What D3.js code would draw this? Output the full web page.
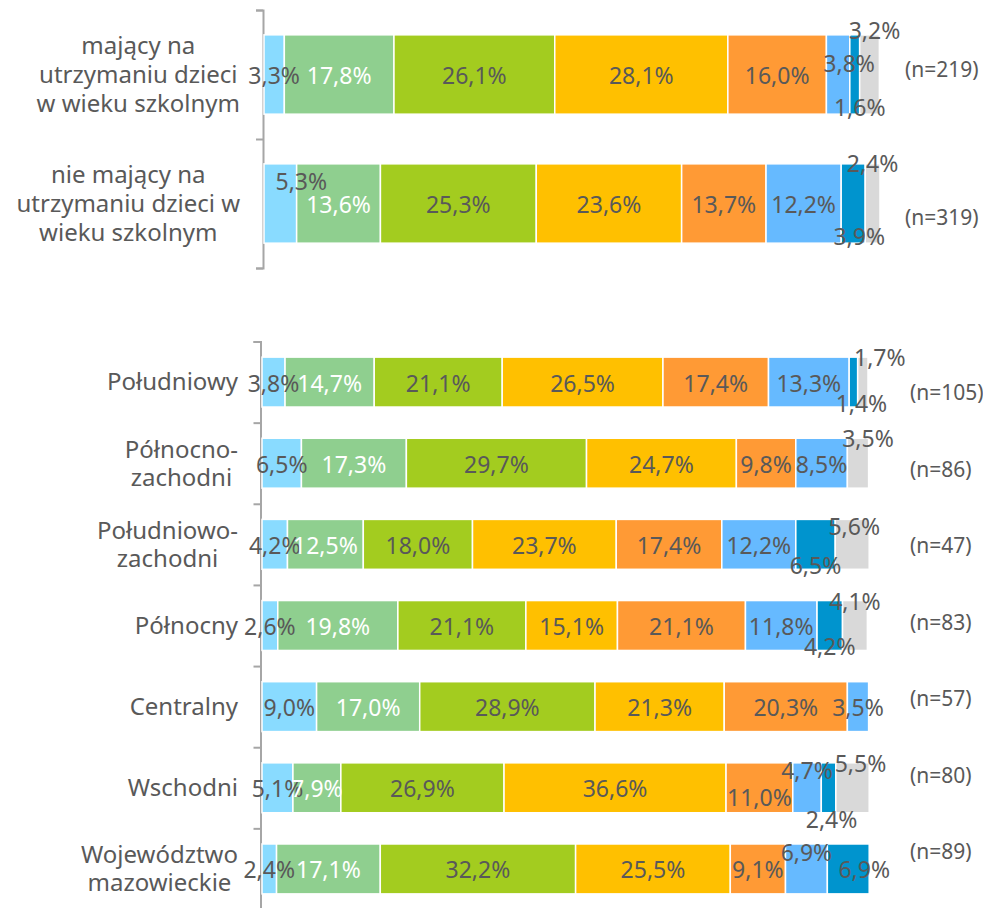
<!DOCTYPE html>
<html>
<head>
<meta charset="utf-8">
<script src="https://cdn.jsdelivr.net/npm/d3@7"></script>
<style>
  body { margin: 0; background: #fff; }
  text { font-family: "Noto Sans", sans-serif; fill: #595959; }
</style>
</head>
<body>
<div id="chart"></div>
<script>
//svg size
var svgWidth = 983;
var svgHeight = 908;

//colours of the eight answer series, left to right
var seriesColors = ["#89DBFF", "#8FCF8F", "#A3CC1F", "#FFC000", "#FF9A35", "#66BAFF", "#0094CE", "#D9D9D9"];

//upper chart: households with / without school-age children
var childCategories = [
  ["mający na", "utrzymaniu dzieci", "w wieku szkolnym"],
  ["nie mający na", "utrzymaniu dzieci w", "wieku szkolnym"]
];
var childValues = [
  [3.3, 17.8, 26.1, 28.1, 16.0, 3.8, 1.6, 3.2],
  [5.3, 13.6, 25.3, 23.6, 13.7, 12.2, 3.9, 2.4]
];
var childN = [219, 319];

//lower chart: regions
var regionCategories = [
  ["Południowy"],
  ["Północno-", "zachodni"],
  ["Południowo-", "zachodni"],
  ["Północny"],
  ["Centralny"],
  ["Wschodni"],
  ["Województwo", "mazowieckie"]
];
var regionValues = [
  [3.8, 14.7, 21.1, 26.5, 17.4, 13.3, 1.4, 1.7],
  [6.5, 17.3, 29.7, 24.7, 9.8, 8.5, 0, 3.5],
  [4.2, 12.5, 18.0, 23.7, 17.4, 12.2, 6.5, 5.6],
  [2.6, 19.8, 21.1, 15.1, 21.1, 11.8, 4.2, 4.1],
  [9.0, 17.0, 28.9, 21.3, 20.3, 3.5, 0, 0],
  [5.1, 7.9, 26.9, 36.6, 11.0, 4.7, 2.4, 5.5],
  [2.4, 17.1, 32.2, 25.5, 9.1, 6.9, 6.9, 0]
];
var regionN = [105, 86, 47, 83, 57, 80, 89];

var fmt = function(v) { return d3.format(".1f")(v).replace(".", ",") + "%"; };

var svg = d3.select("#chart").append("svg")
  .attr("width", svgWidth)
  .attr("height", svgHeight);

function drawPanel(p) {
  var g = svg.append("g");
  var rows = d3.range(p.values.length);

  var x = d3.scaleLinear().domain([0, 100]).range([p.left, p.right]);
  var y = d3.scaleBand().domain(rows).range([p.top, p.bottom]);
  var barH = y.bandwidth() * 0.615;
  var barY = function(j) { return y(j) + (y.bandwidth() - barH) / 2; };

  var stacked = d3.stack().keys(d3.range(seriesColors.length))(p.values);

  //axis with ticks between the categories
  var axisScale = d3.scaleLinear().domain([0, rows.length]).range([p.top, p.bottom]);
  var axis = g.append("g")
    .attr("transform", `translate(${p.axisX}, 0)`)
    .call(d3.axisLeft(axisScale)
      .tickValues(d3.range(rows.length + 1))
      .tickFormat("")
      .tickSizeInner(7)
      .tickSizeOuter(7));
  axis.selectAll("path, line").attr("stroke", "#a6a6a6").attr("stroke-width", 2);

  //bar segments
  var cells = [];
  stacked.forEach(function(ser, i) {
    ser.forEach(function(s, j) {
      var v = p.values[j][i];
      if (v > 0) cells.push({ i: i, j: j, v: v, x0: s[0], x1: s[1] });
    });
  });

  g.selectAll("rect.seg")
    .data(cells)
    .enter()
    .append("rect")
    .attr("class", "seg")
    .attr("x", d => x(d.x0))
    .attr("width", d => x(d.x1) - x(d.x0))
    .attr("y", d => barY(d.j))
    .attr("height", barH)
    .attr("fill", d => seriesColors[d.i])
    .attr("stroke", "#fff")
    .attr("stroke-width", 1.5);

  //value labels: dark blue goes under the bar, grey above, the rest centred
  function labelXY(c) {
    var t = p.tweaks[c.j + "-" + c.i] || {};
    var pos = t.pos || (c.i === 6 ? "below" : c.i === 7 ? "above" : "center");
    var cx = x((c.x0 + c.x1) / 2) + (t.dx || 0);
    var top = barY(c.j), bot = top + barH;
    var cy = pos === "above" ? top + p.aboveDy
      : pos === "below" ? bot + p.belowDy
      : top + barH / 2 + 1.5;
    return [cx, cy + (t.dy || 0)];
  }

  g.selectAll("text.val")
    .data(cells)
    .enter()
    .append("text")
    .attr("class", "val")
    .attr("x", d => labelXY(d)[0])
    .attr("y", d => labelXY(d)[1])
    .attr("dy", "0.35em")
    .attr("text-anchor", "middle")
    .attr("font-size", 23)
    .style("fill", d => d.i === 1 ? "#fff" : "#595959")
    .text(d => fmt(d.v));

  //category labels, lines centred in a block that ends near the axis
  p.cats.forEach(function(lines, j) {
    var t = g.append("text").attr("font-size", p.catSize);
    var n = lines.length;
    var cy = y(j) + y.bandwidth() / 2;
    lines.forEach(function(ln, k) {
      t.append("tspan")
        .attr("y", cy + (k - (n - 1) / 2) * p.lineH)
        .attr("dy", "0.35em")
        .attr("text-anchor", "middle")
        .text(ln);
    });
    var w = d3.max(t.selectAll("tspan").nodes(), nd => nd.getComputedTextLength());
    t.selectAll("tspan").attr("x", p.labelRight - w / 2);
  });

  //sample sizes
  var ny = d3.scalePoint().domain(rows).range(p.nY);
  g.selectAll("text.n")
    .data(p.ns)
    .enter()
    .append("text")
    .attr("class", "n")
    .attr("x", p.nX)
    .attr("y", (d, j) => ny(j))
    .attr("dy", "0.35em")
    .attr("font-size", 21)
    .text(d => `(n=${d})`);
}

drawPanel({
  cats: childCategories, values: childValues, ns: childN,
  left: 264, right: 880, axisX: 263, top: 10, bottom: 268,
  labelRight: 240, lineH: 29, catSize: 24,
  nX: 905, nY: [70, 218],
  aboveDy: -2, belowDy: -6,
  tweaks: {
    "0-5": { dx: 11, dy: -12 },
    "0-6": { dx: 5 },
    "0-7": { dx: 5, dy: -2 },
    "1-0": { dx: 21, dy: -23 },
    "1-6": { dx: 6 },
    "1-7": { dy: 2 }
  }
});

drawPanel({
  cats: regionCategories, values: regionValues, ns: regionN,
  left: 262, right: 868.6, axisX: 260.5, top: 341.5, bottom: 909.5,
  labelRight: 238, lineH: 28, catSize: 24,
  nX: 910, nY: [393, 852],
  aboveDy: 1, belowDy: -3.5,
  tweaks: {
    "0-6": { dx: 8 },
    "0-7": { dx: 17 },
    "1-7": { dx: 10 },
    "2-7": { dx: 2, dy: 7 },
    "5-4": { dy: 9 },
    "5-5": { dy: -18 },
    "5-6": { dx: 3, dy: 11 },
    "5-7": { dx: 8 },
    "6-5": { dy: -17 },
    "6-6": { pos: "center", dx: 16 }
  }
});
</script>
</body>
</html>
